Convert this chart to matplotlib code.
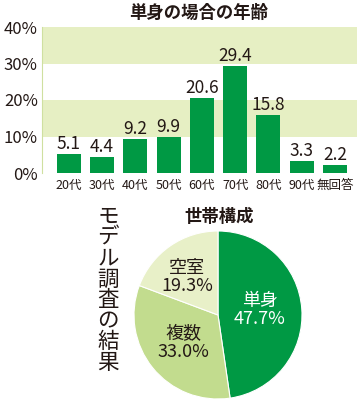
import numpy as np
import matplotlib
matplotlib.use("Agg")
import matplotlib.pyplot as plt

plt.rcParams['font.family'] = ['Noto Sans CJK JP', 'DejaVu Sans']

ages = ["20代", "30代", "40代", "50代", "60代", "70代", "80代", "90代", "無回答"]
age_share = [5.1, 4.4, 9.2, 9.9, 20.6, 29.4, 15.8, 3.3, 2.2]
y_ticks = [0, 10, 20, 30, 40]

households = ["単身", "複数", "空室"]
household_share = [47.7, 33.0, 19.3]

green = "#009944"
band = "#e6efc3"
text = "#231815"

fig = plt.figure(figsize=(3.58, 4.0), dpi=100)

# bar chart
ax = fig.add_axes([0.117, 0.5675, 0.88, 0.365])
x = np.arange(len(ages))
for lo, hi in [(10, 20), (30, 40)]:
    ax.axhspan(lo, hi, color=band, zorder=0, lw=0)
ax.bar(x, age_share, width=0.72, color=green, zorder=2)
for xi, v in zip(x, age_share):
    ax.text(xi, v + 0.3, f"{v}", ha="center", va="bottom", fontsize=12.5, color=text)
ax.set_xlim(-0.81, 8.66)
ax.set_ylim(0, 40)
ax.set_yticks(y_ticks)
ax.set_yticklabels([f"{t}%" for t in y_ticks], fontsize=12, color=text)
ax.set_xticks(x)
ax.set_xticklabels(ages, fontsize=9, color=text)
ax.tick_params(axis="both", length=0, pad=4)
ax.tick_params(axis="y", pad=3)
for s in ["top", "right", "bottom"]:
    ax.spines[s].set_visible(False)
ax.spines["left"].set_color("#cfe0a0")
fig.text(0.556, 0.968, "単身の場合の年齢", ha="center", va="center",
         fontsize=12.5, fontweight="bold", color=text)

# pie chart
r = 84
pax = fig.add_axes([(218 - r) / 358, (400 - 315 - r) / 400, 2 * r / 358, 2 * r / 400])
wedges, _ = pax.pie(household_share, startangle=90, counterclock=False,
                    colors=[green, "#c2dc8e", "#e8f0c8"],
                    wedgeprops=dict(edgecolor="white", linewidth=0.8))
pax.set_xlim(-1, 1)
pax.set_ylim(-1, 1)
pax.set_aspect("equal")
fig.text(219 / 358, 1 - 217 / 400, "世帯構成", ha="center", va="center",
         fontsize=12.5, fontweight="bold", color=text)
label_pos = [(260, 310), (183, 343), (187, 277)]
label_col = ["white", text, text]
for name, v, (px, py), c in zip(households, household_share, label_pos, label_col):
    fig.text(px / 358, 1 - py / 400, f"{name}\n{v:.1f}%", ha="center", va="center",
             fontsize=13, color=c, linespacing=1.0)

fig.text(108 / 358, 1 - 290 / 400, "\n".join("モデル調査の結果"), ha="center",
         va="center", fontsize=15.5, color=text, linespacing=0.93)

fig.savefig("out.png", dpi=100)
